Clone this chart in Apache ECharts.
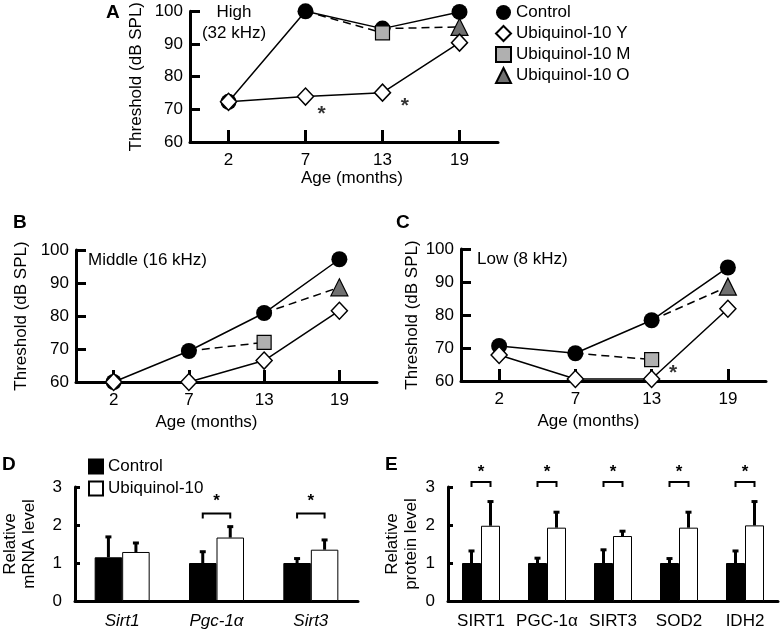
<!DOCTYPE html>
<html><head><meta charset="utf-8">
<script src="https://cdn.jsdelivr.net/npm/echarts@6/dist/echarts.min.js"></script>
<style>html,body{margin:0;padding:0;background:#fff}#c{width:780px;height:632px}</style>
</head><body><div id="c"></div>
<script>
// ---------- data ----------
var ages = ['2', '7', '13', '19'];
// Panel A (High 32 kHz)
var ctrlA = [72.3, 100, 94.7, 99.8];
var ubiYA = [72.3, 73.9, 75.1, 90.4];
var ubiMA = [null, 100, 93.4, null];
var ubiOA = [null, null, 94.7, 95.2];
var starsA = [[1.21, 68.6], [2.29, 71.0]];
// Panel B (Middle 16 kHz)
var ctrlB = [60, 69.4, 80.9, 97.2];
var ubiYB = [60, 60, 66.5, 81.6];
var ubiMB = [null, 69.4, 72, null];
var ubiOB = [null, null, 80.9, 88.7];
// Panel C (Low 8 kHz)
var ctrlC = [70.6, 68.4, 78.4, 94.4];
var ubiYC = [67.9, 60.6, 60.6, 81.9];
var ubiMC = [null, 68.4, 66.5, null];
var ubiOC = [null, null, 78.4, 88.6];
var starsC = [[2.28, 62.5]];
// Panel D (mRNA)
var genesD = ['Sirt1', 'Pgc-1\u03b1', 'Sirt3'];
var ctrlD = [1.15, 1.0, 1.0];
var ctrlDErr = [1.70, 1.31, 1.13];
var ubiD = [1.29, 1.67, 1.35];
var ubiDErr = [1.54, 1.97, 1.62];
var sigD = [[1, 2.3], [2, 2.3]];
// Panel E (protein)
var protE = ['SIRT1', 'PGC-1\u03b1', 'SIRT3', 'SOD2', 'IDH2'];
var ctrlE = [1.0, 1.0, 1.0, 1.0, 1.0];
var ctrlEErr = [1.33, 1.14, 1.36, 1.13, 1.33];
var ubiE = [1.98, 1.93, 1.71, 1.93, 1.99];
var ubiEErr = [2.63, 2.35, 1.85, 2.35, 2.63];
var sigE = [[0, 3.13], [1, 3.13], [2, 3.13], [3, 3.13], [4, 3.13]];

// ---------- helpers ----------
var FONT = "'Liberation Sans', Arial, sans-serif";
var chart = echarts.init(document.getElementById('c'), null, {renderer: 'canvas'});

function catX(grid, nameShift, gap) {
  return {
    type: 'category', gridIndex: grid, data: ages, boundaryGap: true,
    axisLine: {onZero: false, lineStyle: {color: '#000', width: 3}},
    axisTick: {show: true, inside: true, length: 12, alignWithLabel: true, lineStyle: {color: '#000', width: 3}},
    axisLabel: {color: '#000', fontSize: 17, fontFamily: FONT, margin: 10},
    name: 'Age (months)', nameLocation: 'middle', nameGap: gap,
    nameTextStyle: {color: '#000', fontSize: 17, fontFamily: FONT,
      padding: nameShift > 0 ? [0, 0, 0, nameShift * 2] : [0, -nameShift * 2, 0, 0]}
  };
}
function hiddenX(grid) {
  return {type: 'value', gridIndex: grid, min: -0.5, max: 3.5, show: false, axisLine: {onZero: false}};
}
function lineY(grid, gap) {
  return {
    type: 'value', gridIndex: grid, min: 60, max: 100, interval: 10,
    splitLine: {show: false},
    axisLine: {show: true, onZero: false, lineStyle: {color: '#000', width: 3}},
    axisTick: {show: true, inside: true, length: 10, lineStyle: {color: '#000', width: 3}},
    axisLabel: {color: '#000', fontSize: 17, fontFamily: FONT, margin: 7},
    name: 'Threshold (dB SPL)', nameLocation: 'middle', nameGap: gap,
    nameTextStyle: {color: '#000', fontSize: 17, fontFamily: FONT}
  };
}
function barX(grid, cats, italic) {
  return {
    type: 'category', gridIndex: grid, data: cats,
    axisLine: {onZero: false, lineStyle: {color: '#000', width: 3}},
    axisTick: {show: false},
    axisLabel: {color: '#000', fontSize: 17, fontFamily: FONT, margin: 12, fontStyle: italic ? 'italic' : 'normal', interval: 0}
  };
}
function barY(grid, name, gap) {
  return {
    type: 'value', gridIndex: grid, min: 0, max: 3, interval: 1,
    splitLine: {show: false},
    axisLine: {show: true, onZero: false, lineStyle: {color: '#000', width: 3}},
    axisTick: {show: true, inside: true, length: 5, lineStyle: {color: '#000', width: 3}},
    axisLabel: {color: '#000', fontSize: 17, fontFamily: FONT, margin: 13},
    name: name, nameLocation: 'middle', nameGap: gap,
    nameTextStyle: {color: '#000', fontSize: 17, fontFamily: FONT, lineHeight: 19}
  };
}
function ctrlLine(name, xi, yi, d) {
  return {name: name, type: 'line', xAxisIndex: xi, yAxisIndex: yi, data: d,
    symbol: 'circle', symbolSize: 16, z: 2,
    itemStyle: {color: '#000'}, lineStyle: {color: '#000', width: 1.5}};
}
function yLine(name, xi, yi, d) {
  return {name: name, type: 'line', xAxisIndex: xi, yAxisIndex: yi, data: d,
    symbol: 'diamond', symbolSize: [16, 17], z: 5,
    itemStyle: {color: '#fff', borderColor: '#000', borderWidth: 1.5},
    lineStyle: {color: '#000', width: 1.5}};
}
function dashed(name, xi, yi, d, sym, fill, size, startIdx) {
  var data = d.map(function (v, i) {
    if (v === null) return null;
    if (i === startIdx) return {value: v, symbol: 'none'};
    return v;
  });
  return {name: name, type: 'line', xAxisIndex: xi, yAxisIndex: yi, data: data,
    symbol: sym, symbolSize: size, z: 4, connectNulls: false,
    itemStyle: {color: fill, borderColor: '#000', borderWidth: 1.2},
    lineStyle: {color: '#000', width: 1.5, type: [8, 5]}};
}
function stars(xi, yi, d) {
  return {type: 'scatter', xAxisIndex: xi, yAxisIndex: yi, data: d, symbolSize: 1,
    itemStyle: {color: 'rgba(0,0,0,0)'}, silent: true, z: 6,
    label: {show: true, position: 'inside', formatter: '*', color: '#000', fontSize: 21, fontFamily: FONT, fontWeight: 'bold'}};
}
function errBars(xi, yi, means, uppers, side, bw) {
  return {type: 'custom', xAxisIndex: xi, yAxisIndex: yi, z: 3, silent: true,
    data: means.map(function (m, i) { return [i, m, uppers[i]]; }),
    renderItem: function (params, api) {
      var p0 = api.coord([api.value(0), api.value(1)]);
      var p1 = api.coord([api.value(0), api.value(2)]);
      var x = p0[0] + side * bw / 2;
      return {type: 'group', children: [
        {type: 'line', shape: {x1: x, y1: p0[1], x2: x, y2: p1[1]}, style: {stroke: '#000', lineWidth: 3}},
        {type: 'rect', shape: {x: x - 3, y: p1[1] - 1, width: 6, height: 3}, style: {fill: '#000'}}
      ]};
    }};
}
function brackets(xi, yi, d, bw, starGap) {
  return {type: 'custom', xAxisIndex: xi, yAxisIndex: yi, z: 3, silent: true, data: d,
    renderItem: function (params, api) {
      var c = api.coord([api.value(0), api.value(1)]);
      var l = c[0] - bw / 2, r = c[0] + bw / 2;
      return {type: 'group', children: [
        {type: 'polyline', shape: {points: [[l, c[1] + 5], [l, c[1]], [r, c[1]], [r, c[1] + 5]]}, style: {stroke: '#000', lineWidth: 2, fill: null}},
        {type: 'text', style: {text: '*', x: c[0], y: c[1] - starGap, align: 'center', verticalAlign: 'middle', fontSize: 17, fontFamily: FONT, fill: '#000', fontWeight: 'bold'}}
      ]};
    }};
}
function bar(name, xi, yi, d, fill, bw) {
  return {name: name, type: 'bar', xAxisIndex: xi, yAxisIndex: yi, data: d, barWidth: bw, barGap: '0%', z: 2,
    itemStyle: {color: fill, borderColor: '#000', borderWidth: 1}};
}
var bwD = 27.5, bwE = 19;

var option = {
  backgroundColor: '#fff',
  animation: false,
  textStyle: {fontFamily: FONT},
  grid: [
    {left: 190, top: 11, width: 308, height: 131},
    {left: 76, top: 250, width: 301, height: 132},
    {left: 461, top: 249, width: 305, height: 132},
    {left: 68, top: 487, width: 290, height: 114},
    {left: 448, top: 487, width: 330, height: 114}
  ],
  xAxis: [catX(0, 8, 28), hiddenX(0), catX(1, -20, 32), catX(2, -25, 32), hiddenX(2), barX(3, genesD, true), barX(4, protE, false)],
  yAxis: [lineY(0, 45), lineY(1, 46), lineY(2, 40),
    barY(3, 'Relative\nmRNA level', 36), barY(4, 'Relative\nprotein level', 27)],
  legend: [
    {orient: 'vertical', left: 495, top: 4, padding: 0, itemWidth: 15, itemHeight: 15, itemGap: 4, selectedMode: false,
      textStyle: {fontSize: 17, lineHeight: 15, color: '#000', fontFamily: FONT},
      data: [{name: 'Control', icon: 'circle'}, {name: 'Ubiquinol-10 Y', icon: 'diamond'},
        {name: 'Ubiquinol-10 M', icon: 'rect'}, {name: 'Ubiquinol-10 O', icon: 'triangle'}]},
    {orient: 'vertical', left: 88, top: 458, padding: 0, itemWidth: 14, itemHeight: 14, itemGap: 5, selectedMode: false,
      textStyle: {fontSize: 17, lineHeight: 14, color: '#000', fontFamily: FONT},
      formatter: function (n) { return n === 'ctrlBar' ? 'Control' : 'Ubiquinol-10'; },
      data: [{name: 'ctrlBar', icon: 'rect'}, {name: 'ubiBar', icon: 'rect'}]}
  ],
  series: [
    ctrlLine('Control', 0, 0, ctrlA), yLine('Ubiquinol-10 Y', 0, 0, ubiYA),
    dashed('Ubiquinol-10 M', 0, 0, ubiMA, 'rect', '#b0b0b0', 14, 1),
    dashed('Ubiquinol-10 O', 0, 0, ubiOA, 'triangle', '#707070', 17, 2),
    stars(1, 0, starsA),
    ctrlLine('Control', 2, 1, ctrlB), yLine('Ubiquinol-10 Y', 2, 1, ubiYB),
    dashed('Ubiquinol-10 M', 2, 1, ubiMB, 'rect', '#b0b0b0', 14, 1),
    dashed('Ubiquinol-10 O', 2, 1, ubiOB, 'triangle', '#707070', 17, 2),
    ctrlLine('Control', 3, 2, ctrlC), yLine('Ubiquinol-10 Y', 3, 2, ubiYC),
    dashed('Ubiquinol-10 M', 3, 2, ubiMC, 'rect', '#b0b0b0', 14, 1),
    dashed('Ubiquinol-10 O', 3, 2, ubiOC, 'triangle', '#707070', 17, 2),
    stars(4, 2, starsC),
    bar('ctrlBar', 5, 3, ctrlD, '#000', bwD), bar('ubiBar', 5, 3, ubiD, '#fff', bwD),
    errBars(5, 3, ctrlD, ctrlDErr, -1, bwD), errBars(5, 3, ubiD, ubiDErr, 1, bwD),
    brackets(5, 3, sigD, bwD, 12),
    bar('ctrlBar', 6, 4, ctrlE, '#000', bwE), bar('ubiBar', 6, 4, ubiE, '#fff', bwE),
    errBars(6, 4, ctrlE, ctrlEErr, -1, bwE), errBars(6, 4, ubiE, ubiEErr, 1, bwE),
    brackets(6, 4, sigE, bwE, 10)
  ],
  graphic: [
    {type: 'text', left: 106, top: 3, style: {text: 'A', fontSize: 19, fontWeight: 'bold', fontFamily: FONT, fill: '#000'}},
    {type: 'text', left: 13, top: 213, style: {text: 'B', fontSize: 19, fontWeight: 'bold', fontFamily: FONT, fill: '#000'}},
    {type: 'text', left: 396, top: 213, style: {text: 'C', fontSize: 19, fontWeight: 'bold', fontFamily: FONT, fill: '#000'}},
    {type: 'text', left: 2, top: 455, style: {text: 'D', fontSize: 19, fontWeight: 'bold', fontFamily: FONT, fill: '#000'}},
    {type: 'text', left: 385, top: 455, style: {text: 'E', fontSize: 19, fontWeight: 'bold', fontFamily: FONT, fill: '#000'}},
    {type: 'text', x: 234, y: 2, style: {text: 'High\n(32 kHz)', align: 'center', lineHeight: 21, fontSize: 17, fontFamily: FONT, fill: '#000'}},
    {type: 'text', x: 88, y: 252, style: {text: 'Middle (16 kHz)', fontSize: 17, fontFamily: FONT, fill: '#000'}},
    {type: 'text', x: 477, y: 251, style: {text: 'Low (8 kHz)', fontSize: 17, fontFamily: FONT, fill: '#000'}}
  ]
};
chart.setOption(option);
</script></body></html>
